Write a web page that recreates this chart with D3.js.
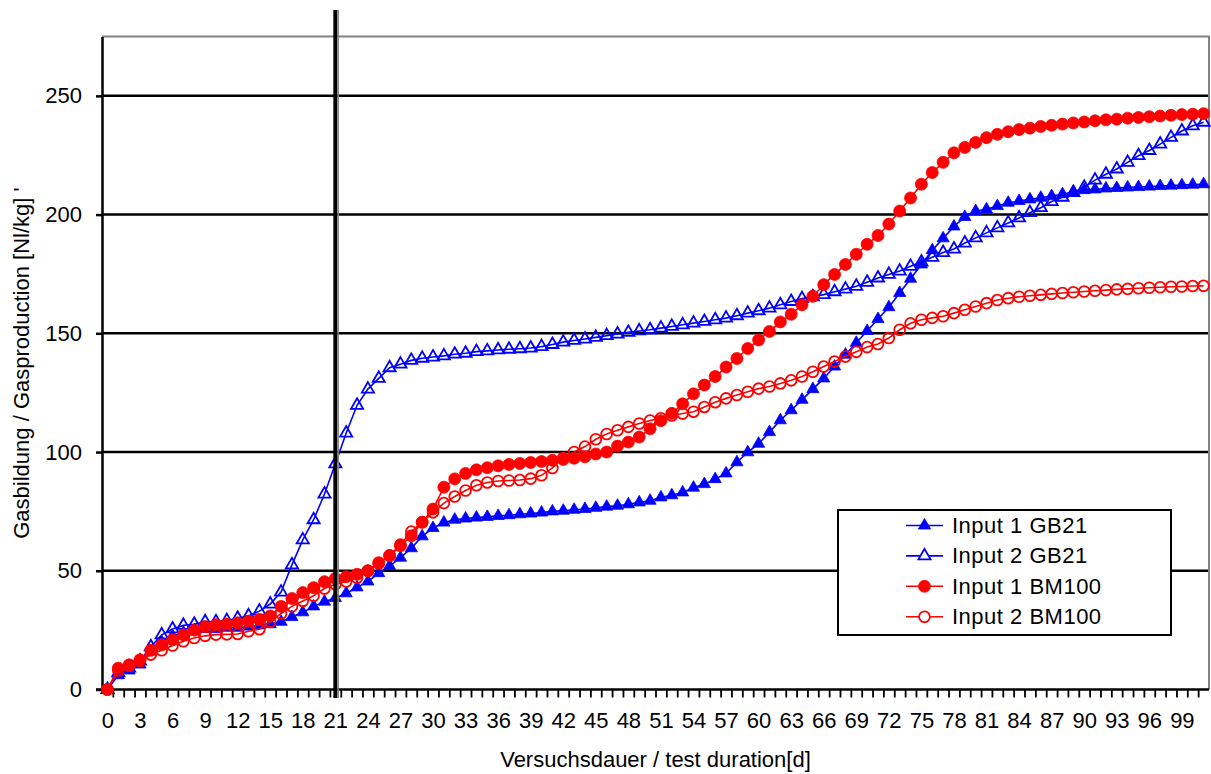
<!DOCTYPE html>
<html>
<head>
<meta charset="utf-8">
<script src="https://cdn.jsdelivr.net/npm/d3@7"></script>
<style>
  body { margin: 0; background: #fff; }
  text { font-family: "Liberation Sans", Arial, sans-serif; }
</style>
</head>
<body>
<div id="chart"></div>
<script>
// days 0..101 of the test
const days = d3.range(0, 102);
const xLabelDays = [0, 3, 6, 9, 12, 15, 18, 21, 24, 27, 30, 33, 36, 39, 42, 45, 48, 51, 54, 57, 60, 63, 66, 69, 72, 75, 78, 81, 84, 87, 90, 93, 96, 99];
const yTicks = [0, 50, 100, 150, 200, 250];
const markerDay = 21;

// Gasbildung [Nl/kg]
const input1GB21 = [0, 6, 8, 10.5, 16, 20, 22.5, 24, 25, 25.5, 25.5, 26, 26, 26.5, 27, 27.5, 28.5, 30.5, 32.5, 35,
  37, 38.5, 40.5, 43, 45.5, 49, 52, 55.5, 59.5, 64.5, 68, 70.3, 71.5, 72, 72.4, 72.7, 73.1, 73.4, 73.8, 74.1,
  74.5, 75, 75.3, 75.7, 76, 76.5, 77, 77.4, 78, 78.8, 79.5, 80.9, 81.8, 83, 85, 86.5, 88.6, 91, 95.7, 99.9,
  103.5, 108.4, 113.4, 117.6, 122, 126.5, 131, 136, 141, 146, 151, 156, 161, 167, 173, 179, 185, 190, 195, 199,
  201.5, 202.2, 203.6, 205, 205.7, 206.4, 207.1, 207.8, 208.6, 209.6, 210.3, 210.6, 211, 211.2, 211.4, 211.6, 211.8, 212, 212.2, 212.4,
  212.6, 212.8];
const input2GB21 = [0, 7, 9, 12, 18, 23, 25.5, 27, 27.5, 28.5, 28.5, 29, 30, 31, 33, 36, 41, 52.5, 63, 71.5,
  82.3, 95, 108, 119.7, 126.5, 131, 135.5, 137, 138.6, 139.5, 140, 140.5, 141.2, 141.6, 142.3, 142.6, 143, 143.3, 143.5, 143.8,
  144.4, 145.3, 146.3, 147, 147.6, 148.3, 149, 149.7, 150.4, 151, 151.5, 152.2, 152.9, 153.6, 154.3, 155, 155.7, 156.4, 157.4, 158.5,
  159.5, 160.6, 162, 163.4, 164.6, 165.4, 166.3, 167.5, 168.6, 169.8, 171.5, 173.3, 174.8, 176.2, 178.2, 180, 182, 184, 185.5, 188,
  190.2, 192.3, 194.4, 196.5, 198.6, 200.8, 202.9, 205.5, 207.3, 209.3, 211.5, 214.5, 217, 219.2, 222, 224.8, 227, 229.7, 232.5, 235.2,
  237.4, 238.9];
const input1BM100 = [0, 9, 10.4, 12.5, 16.5, 18.8, 21, 23, 25, 26.5, 27.3, 27.6, 28.1, 28.8, 29.5, 31, 35, 38.3, 40.8, 42.9,
  45.4, 46.8, 47.5, 48.5, 50, 53.4, 56.3, 60.5, 64.7, 70.4, 76, 85.2, 88.7, 91, 92.5, 93.4, 94.2, 94.8, 95.2, 95.6,
  96, 96.5, 96.9, 97.4, 98, 99.2, 100, 102.5, 104.2, 106.3, 109.8, 113.2, 116.3, 120.3, 124.5, 128.2, 131.8, 135.8, 139.4, 143.6,
  147.2, 150.8, 154.8, 158, 162, 165.6, 170.5, 174.8, 179, 183.3, 187.5, 191.2, 196, 201.5, 207, 212.8, 217.7, 222, 226, 228.3,
  230.4, 232.4, 233.8, 234.9, 235.8, 236.4, 237.1, 237.6, 238.1, 238.6, 239, 239.5, 239.9, 240.2, 240.6, 240.9, 241.2, 241.5, 241.8, 242.1,
  242.3, 242.5];
const input2BM100 = [0, 8, 10, 12, 14.7, 16.5, 18.5, 20.3, 21.7, 22.6, 23.1, 23.2, 23.4, 24.5, 25.4, 28.5, 32, 35, 37.3, 39.5,
  42.5, 44.3, 45.5, 47, 50, 53, 56.5, 61, 66.5, 70.5, 74.6, 78.5, 81.3, 83.8, 86, 87.2, 87.8, 88, 88.2, 88.8,
  90.2, 93.3, 97.5, 100, 102.3, 105.4, 107.6, 109.2, 110.6, 112, 113.3, 114.2, 115.4, 116.2, 117, 119, 121, 122.6, 124, 125.4,
  126.7, 127.6, 128.9, 130.2, 131.8, 133.8, 136, 138.1, 140.2, 142.2, 144.2, 145.5, 148, 151.5, 154.2, 155.7, 156.5, 157.2, 158.5, 159.9,
  161.3, 162.7, 164, 164.8, 165.4, 165.8, 166.2, 166.6, 167, 167.3, 167.6, 167.9, 168.2, 168.5, 168.7, 169, 169.2, 169.4, 169.6, 169.7,
  169.9, 170];

const seriesNames = ["Input 1 GB21", "Input 2 GB21", "Input 1 BM100", "Input 2 BM100"];

const series = [
  { name: seriesNames[0], values: input1GB21, color: "#0000ff", shape: "triangle", filled: true },
  { name: seriesNames[1], values: input2GB21, color: "#0000ff", shape: "triangle", filled: false },
  { name: seriesNames[2], values: input1BM100, color: "#ff0000", shape: "circle", filled: true },
  { name: seriesNames[3], values: input2BM100, color: "#ff0000", shape: "circle", filled: false }
];

const width = 1211;
const height = 774;
const plot = { left: 102, right: 1209, top: 36.5, bottom: 689.5 };

const svg = d3.select("#chart")
  .append("svg")
  .attr("width", width)
  .attr("height", height);

const x = d3.scaleLinear()
  .domain([-0.5, 101.5])
  .range([plot.left, plot.right]);

const y = d3.scaleLinear()
  .domain([0, 275])
  .range([plot.bottom, plot.top]);

// horizontal grid lines
svg.append("g")
  .selectAll("line")
  .data(yTicks.filter(d => d > 0))
  .join("line")
  .attr("x1", plot.left)
  .attr("x2", plot.right)
  .attr("y1", d => y(d))
  .attr("y2", d => y(d))
  .attr("stroke", "#000")
  .attr("stroke-width", 2.5);

// gray frame on top and right
svg.append("path")
  .attr("d", `M${plot.left},${plot.top}H${plot.right}V${plot.bottom}`)
  .attr("fill", "none")
  .attr("stroke", "#808080")
  .attr("stroke-width", 2);

// y axis
svg.append("g")
  .attr("transform", `translate(${plot.left},0)`)
  .call(d3.axisLeft(y).tickValues(yTicks).tickSize(6).tickSizeOuter(0).tickPadding(14))
  .call(g => g.select(".domain").attr("stroke-width", 2.5))
  .call(g => g.selectAll(".tick line").attr("stroke-width", 2.5))
  .call(g => g.selectAll(".tick text").attr("font-size", 22).attr("font-family", "Liberation Sans, Arial, sans-serif"));

// x axis: small ticks between the days
svg.append("g")
  .attr("transform", `translate(0,${plot.bottom})`)
  .call(d3.axisBottom(x).tickValues(d3.range(0.5, 101, 1)).tickSize(8).tickSizeOuter(0).tickFormat(""))
  .call(g => g.select(".domain").attr("stroke-width", 2.5).attr("d", `M${plot.left - 6},0H${plot.right}`))
  .call(g => g.selectAll(".tick line").attr("stroke-width", 1.8));

// x axis: labels every 3 days
svg.append("g")
  .attr("transform", `translate(0,${plot.bottom})`)
  .call(d3.axisBottom(x).tickValues(xLabelDays).tickSize(0).tickPadding(23))
  .call(g => g.select(".domain").remove())
  .call(g => g.selectAll(".tick text").attr("font-size", 22).attr("font-family", "Liberation Sans, Arial, sans-serif"));

// axis titles
svg.append("text")
  .attr("x", (plot.left + plot.right) / 2)
  .attr("y", 767)
  .attr("text-anchor", "middle")
  .attr("font-size", 22)
  .text("Versuchsdauer / test duration[d]");

svg.append("text")
  .attr("transform", `translate(29,${(plot.top + plot.bottom) / 2}) rotate(-90)`)
  .attr("text-anchor", "middle")
  .attr("font-size", 22)
  .text("Gasbildung / Gasproduction [Nl/kg] '");

// the series
const line = d3.line()
  .x((d, i) => x(days[i]))
  .y(d => y(d));

const triangle = d3.symbol().type(d3.symbolTriangle).size(64);

function addMarker(g, s, fillOpen) {
  if (s.shape === "triangle") {
    g.append("path")
      .attr("d", triangle())
      .attr("fill", s.filled ? s.color : fillOpen)
      .attr("stroke", s.color)
      .attr("stroke-width", s.filled ? 0.8 : 1.8);
  } else {
    g.append("circle")
      .attr("r", s.filled ? 6 : 5.4)
      .attr("fill", s.filled ? s.color : fillOpen)
      .attr("stroke", s.color)
      .attr("stroke-width", s.filled ? 0.8 : 1.8);
  }
}

series.forEach(s => {
  const g = svg.append("g");
  g.append("path")
    .datum(s.values)
    .attr("d", line)
    .attr("fill", "none")
    .attr("stroke", s.color)
    .attr("stroke-width", 1.6);
  g.selectAll("g.mark")
    .data(s.values)
    .join("g")
    .attr("class", "mark")
    .attr("transform", (d, i) => `translate(${x(days[i])},${y(d)})`)
    .each(function () { addMarker(d3.select(this), s, "none"); });
});

// vertical reference line at day 21
svg.append("line")
  .attr("x1", x(markerDay)).attr("x2", x(markerDay))
  .attr("y1", 10).attr("y2", 698)
  .attr("stroke", "#000")
  .attr("stroke-width", 4);
svg.append("line")
  .attr("x1", x(markerDay) + 2.8).attr("x2", x(markerDay) + 2.8)
  .attr("y1", 10).attr("y2", 698)
  .attr("stroke", "#808080")
  .attr("stroke-width", 1.6);

// legend
const legend = svg.append("g");
legend.append("rect")
  .attr("x", 838)
  .attr("y", 510)
  .attr("width", 333)
  .attr("height", 125)
  .attr("fill", "#fff")
  .attr("stroke", "#000")
  .attr("stroke-width", 2);

series.forEach((s, i) => {
  const row = legend.append("g").attr("transform", `translate(0,${525.5 + i * 30.4})`);
  row.append("line")
    .attr("x1", 906).attr("x2", 943)
    .attr("stroke", s.color)
    .attr("stroke-width", 1.6);
  addMarker(row.append("g").attr("transform", "translate(924.5,0)"), s, "#fff");
  row.append("text")
    .attr("x", 952)
    .attr("y", 7.5)
    .attr("font-size", 22)
    .attr("letter-spacing", 0.5)
    .text(s.name);
});
</script>
</body>
</html>
